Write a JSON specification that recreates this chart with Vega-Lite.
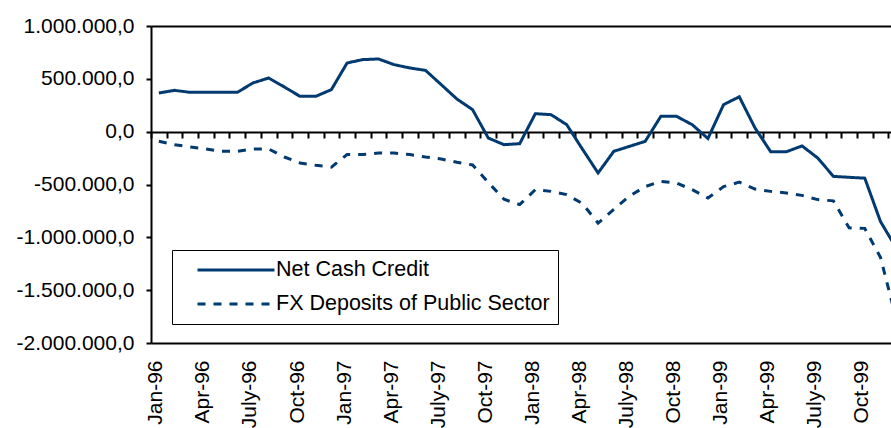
{
  "$schema": "https://vega.github.io/schema/vega-lite/v6.json",
  "width": 740,
  "height": 317,
  "autosize": "none",
  "padding": {"left": 151, "top": 26, "right": 0, "bottom": 85},
  "background": "white",
  "config": {
    "view": {"stroke": null},
    "font": "Liberation Sans",
    "legend": {"strokeColor": "black"},
    "locale": {"number": {"decimal": ",", "thousands": ".", "grouping": [3], "currency": ["", ""], "minus": "-"}}
  },
  "data": {"values": [
    {"month":"Jan-96","series":"Net Cash Credit","value":366000},
    {"month":"Feb-96","series":"Net Cash Credit","value":391000},
    {"month":"Mar-96","series":"Net Cash Credit","value":372000},
    {"month":"Apr-96","series":"Net Cash Credit","value":372000},
    {"month":"May-96","series":"Net Cash Credit","value":372000},
    {"month":"Jun-96","series":"Net Cash Credit","value":372000},
    {"month":"July-96","series":"Net Cash Credit","value":461000},
    {"month":"Aug-96","series":"Net Cash Credit","value":508000},
    {"month":"Sep-96","series":"Net Cash Credit","value":423000},
    {"month":"Oct-96","series":"Net Cash Credit","value":334000},
    {"month":"Nov-96","series":"Net Cash Credit","value":334000},
    {"month":"Dec-96","series":"Net Cash Credit","value":398000},
    {"month":"Jan-97","series":"Net Cash Credit","value":650000},
    {"month":"Feb-97","series":"Net Cash Credit","value":682000},
    {"month":"Mar-97","series":"Net Cash Credit","value":688000},
    {"month":"Apr-97","series":"Net Cash Credit","value":634000},
    {"month":"May-97","series":"Net Cash Credit","value":603000},
    {"month":"Jun-97","series":"Net Cash Credit","value":580000},
    {"month":"July-97","series":"Net Cash Credit","value":445000},
    {"month":"Aug-97","series":"Net Cash Credit","value":309000},
    {"month":"Sep-97","series":"Net Cash Credit","value":208000},
    {"month":"Oct-97","series":"Net Cash Credit","value":-60000},
    {"month":"Nov-97","series":"Net Cash Credit","value":-123000},
    {"month":"Dec-97","series":"Net Cash Credit","value":-114000},
    {"month":"Jan-98","series":"Net Cash Credit","value":170000},
    {"month":"Feb-98","series":"Net Cash Credit","value":161000},
    {"month":"Mar-98","series":"Net Cash Credit","value":66000},
    {"month":"Apr-98","series":"Net Cash Credit","value":-165000},
    {"month":"May-98","series":"Net Cash Credit","value":-391000},
    {"month":"Jun-98","series":"Net Cash Credit","value":-186000},
    {"month":"July-98","series":"Net Cash Credit","value":-139000},
    {"month":"Aug-98","series":"Net Cash Credit","value":-92000},
    {"month":"Sep-98","series":"Net Cash Credit","value":145000},
    {"month":"Oct-98","series":"Net Cash Credit","value":145000},
    {"month":"Nov-98","series":"Net Cash Credit","value":66000},
    {"month":"Dec-98","series":"Net Cash Credit","value":-65000},
    {"month":"Jan-99","series":"Net Cash Credit","value":256000},
    {"month":"Feb-99","series":"Net Cash Credit","value":330000},
    {"month":"Mar-99","series":"Net Cash Credit","value":36000},
    {"month":"Apr-99","series":"Net Cash Credit","value":-190000},
    {"month":"May-99","series":"Net Cash Credit","value":-190000},
    {"month":"Jun-99","series":"Net Cash Credit","value":-135000},
    {"month":"July-99","series":"Net Cash Credit","value":-249000},
    {"month":"Aug-99","series":"Net Cash Credit","value":-423000},
    {"month":"Sep-99","series":"Net Cash Credit","value":-432000},
    {"month":"Oct-99","series":"Net Cash Credit","value":-440000},
    {"month":"Nov-99","series":"Net Cash Credit","value":-850000},
    {"month":"Dec-99","series":"Net Cash Credit","value":-1100000},
    {"month":"Jan-96","series":"FX Deposits of Public Sector","value":-90000},
    {"month":"Feb-96","series":"FX Deposits of Public Sector","value":-123000},
    {"month":"Mar-96","series":"FX Deposits of Public Sector","value":-145000},
    {"month":"Apr-96","series":"FX Deposits of Public Sector","value":-164000},
    {"month":"May-96","series":"FX Deposits of Public Sector","value":-186000},
    {"month":"Jun-96","series":"FX Deposits of Public Sector","value":-186000},
    {"month":"July-96","series":"FX Deposits of Public Sector","value":-164000},
    {"month":"Aug-96","series":"FX Deposits of Public Sector","value":-164000},
    {"month":"Sep-96","series":"FX Deposits of Public Sector","value":-240000},
    {"month":"Oct-96","series":"FX Deposits of Public Sector","value":-296000},
    {"month":"Nov-96","series":"FX Deposits of Public Sector","value":-318000},
    {"month":"Dec-96","series":"FX Deposits of Public Sector","value":-335000},
    {"month":"Jan-97","series":"FX Deposits of Public Sector","value":-217000},
    {"month":"Feb-97","series":"FX Deposits of Public Sector","value":-217000},
    {"month":"Mar-97","series":"FX Deposits of Public Sector","value":-202000},
    {"month":"Apr-97","series":"FX Deposits of Public Sector","value":-202000},
    {"month":"May-97","series":"FX Deposits of Public Sector","value":-217000},
    {"month":"Jun-97","series":"FX Deposits of Public Sector","value":-240000},
    {"month":"July-97","series":"FX Deposits of Public Sector","value":-259000},
    {"month":"Aug-97","series":"FX Deposits of Public Sector","value":-290000},
    {"month":"Sep-97","series":"FX Deposits of Public Sector","value":-315000},
    {"month":"Oct-97","series":"FX Deposits of Public Sector","value":-480000},
    {"month":"Nov-97","series":"FX Deposits of Public Sector","value":-640000},
    {"month":"Dec-97","series":"FX Deposits of Public Sector","value":-690000},
    {"month":"Jan-98","series":"FX Deposits of Public Sector","value":-549000},
    {"month":"Feb-98","series":"FX Deposits of Public Sector","value":-565000},
    {"month":"Mar-98","series":"FX Deposits of Public Sector","value":-596000},
    {"month":"Apr-98","series":"FX Deposits of Public Sector","value":-680000},
    {"month":"May-98","series":"FX Deposits of Public Sector","value":-865000},
    {"month":"Jun-98","series":"FX Deposits of Public Sector","value":-735000},
    {"month":"July-98","series":"FX Deposits of Public Sector","value":-610000},
    {"month":"Aug-98","series":"FX Deposits of Public Sector","value":-520000},
    {"month":"Sep-98","series":"FX Deposits of Public Sector","value":-470000},
    {"month":"Oct-98","series":"FX Deposits of Public Sector","value":-486000},
    {"month":"Nov-98","series":"FX Deposits of Public Sector","value":-549000},
    {"month":"Dec-98","series":"FX Deposits of Public Sector","value":-628000},
    {"month":"Jan-99","series":"FX Deposits of Public Sector","value":-520000},
    {"month":"Feb-99","series":"FX Deposits of Public Sector","value":-478000},
    {"month":"Mar-99","series":"FX Deposits of Public Sector","value":-543000},
    {"month":"Apr-99","series":"FX Deposits of Public Sector","value":-565000},
    {"month":"May-99","series":"FX Deposits of Public Sector","value":-580000},
    {"month":"Jun-99","series":"FX Deposits of Public Sector","value":-603000},
    {"month":"July-99","series":"FX Deposits of Public Sector","value":-643000},
    {"month":"Aug-99","series":"FX Deposits of Public Sector","value":-655000},
    {"month":"Sep-99","series":"FX Deposits of Public Sector","value":-910000},
    {"month":"Oct-99","series":"FX Deposits of Public Sector","value":-915000},
    {"month":"Nov-99","series":"FX Deposits of Public Sector","value":-1190000},
    {"month":"Dec-99","series":"FX Deposits of Public Sector","value":-1770000}
  ]},
  "mark": {"type": "line", "color": "#003a70", "strokeWidth": 3, "clip": true},
  "encoding": {
    "x": {
      "field": "month",
      "type": "ordinal",
      "sort": null,
      "bandPosition": 0.5,
      "scale": {"type": "band", "paddingInner": 0, "paddingOuter": 0, "range": [0, 753]},
      "axis": {
        "title": null,
        "offset": -211,
        "domainColor": "black",
        "domainWidth": 2,
        "tickColor": "black",
        "tickWidth": 2,
        "tickSize": 6,
        "tickBand": "extent",
        "labelAngle": -90,
        "labelAlign": "right",
        "labelBaseline": "middle",
        "labelPadding": 222,
        "labelOffset": -3,
        "labelOverlap": false,
        "labelFontSize": 21,
        "labelFont": "Liberation Sans",
        "labelColor": "black",
        "labelExpr": "indexof(['Jan','Apr','July','Oct'], split(datum.label, '-')[0]) >= 0 ? datum.label : ''"
      }
    },
    "y": {
      "field": "value",
      "type": "quantitative",
      "scale": {"domain": [-2000000, 1000000], "nice": false, "zero": false},
      "axis": {
        "title": null,
        "values": [-2000000, -1500000, -1000000, -500000, 0, 500000, 1000000],
        "format": ",.1f",
        "domainColor": "black",
        "domainWidth": 2,
        "tickColor": "black",
        "tickWidth": 2,
        "tickSize": 5,
        "labelPadding": 12,
        "labelFontSize": 21,
        "labelFont": "Liberation Sans",
        "labelColor": "black",
        "grid": true,
        "gridColor": "black",
        "gridWidth": 2,
        "gridOpacity": {"condition": {"test": "datum.value == 1000000 || datum.value == -2000000", "value": 1}, "value": 0}
      }
    },
    "strokeDash": {
      "field": "series",
      "type": "nominal",
      "scale": {"domain": ["Net Cash Credit", "FX Deposits of Public Sector"], "range": [[1, 0], [8, 8]]},
      "legend": {
        "title": null,
        "orient": "none",
        "legendX": 21,
        "legendY": 224,
        "symbolType": "stroke",
        "symbolSize": 5929,
        "symbolStrokeWidth": 3,
        "symbolStrokeColor": "#003a70",
        "clipHeight": 24,
        "rowPadding": 10,
        "padding": 8,
        "symbolOffset": 16,
        "labelOffset": 0,
        "labelFontSize": 21.5,
        "labelFont": "Liberation Sans",
        "labelColor": "black",
        "labelLimit": 0,
        "labelExpr": "datum.label + '\u00a0\u00a0'",
        "strokeColor": "black"
      }
    }
  }
}
